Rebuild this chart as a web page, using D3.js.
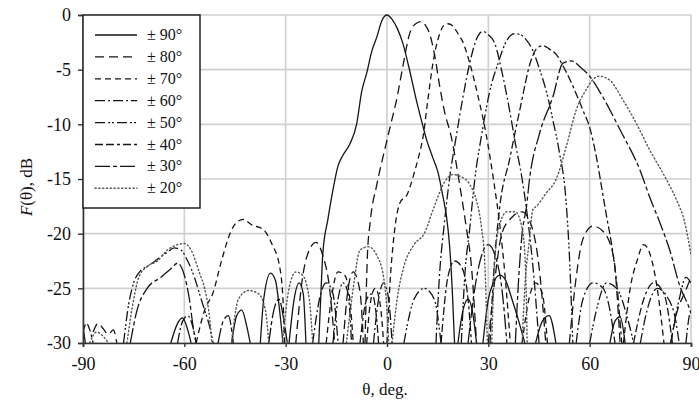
<!DOCTYPE html>
<html>
<head>
<meta charset="utf-8">
<script src="https://cdn.jsdelivr.net/npm/d3@7"></script>
<style>
  body { margin: 0; background: #fff; }
  svg text { font-family: 'Liberation Serif', 'DejaVu Serif', serif; fill: #111; }
</style>
</head>
<body>
<svg id="chart" width="699" height="403"></svg>
<script>
// legend labels, in drawing order
let labels = ['\u00b1 90\u00b0', '\u00b1 80\u00b0', '\u00b1 70\u00b0', '\u00b1 60\u00b0',
              '\u00b1 50\u00b0', '\u00b1 40\u00b0', '\u00b1 30\u00b0', '\u00b1 20\u00b0'];
let xTicks = [-90, -60, -30, 0, 30, 60, 90];
let yTicks = [0, -5, -10, -15, -20, -25, -30];

// each series = list of lobes, each lobe = [theta deg, F dB] points
let s90 = [
  [[-90,-28.5],[-89.3,-30]],
  [[-64,-30],[-62,-28.2],[-60.5,-27.7],[-59,-28.8],[-58,-30]],
  [[-46,-30],[-44.5,-27.5],[-43,-27],[-41.5,-28.5],[-40.5,-30]],
  [[-37.5,-30],[-36.5,-26],[-34.5,-23.6],[-33,-24.3],[-31.8,-27],[-30.8,-30]],
  [[-29,-30],[-27.5,-26],[-26,-24.5],[-24.8,-25.5],[-24,-30]],
  [[-20.2,-30],[-19.5,-25],[-19,-21.8],[-17.5,-18.7],[-16,-16],[-14.5,-13.8],[-13,-12.8],[-11,-11.8],
   [-9,-10],[-7.5,-7],[-6,-5.3],[-4.5,-3.3],[-3,-2],[-1.5,-0.5],[0,0],[1.5,-0.4],[3,-1.2],[4.7,-2.6],
   [6.5,-4.8],[8.7,-7.8],[10.5,-10],[11.7,-11.4],[13.5,-13],[15.1,-14.4],[16.5,-16.5],[17.6,-18.4],
   [18.5,-21],[19.3,-25],[20,-30]],
  [[21,-30],[22.5,-27],[24,-26],[25.5,-27.5],[26.5,-30]],
  [[28.4,-30],[30,-26],[31.5,-24.5],[33.4,-23.8],[35,-24.2],[37,-26],[39,-28],[40.8,-30]],
  [[44,-30],[46,-28],[48,-27.5],[50,-30]],
  [[66,-30],[67.5,-28],[69,-27.6],[70.5,-30]]
];
let s80 = [
  [[-87,-29],[-85.5,-28.2],[-84,-28.7],[-82.5,-29.2],[-81,-28.8],[-80,-30]],
  [[-27,-30],[-25,-24],[-23,-21.5],[-21,-20.8],[-19,-22],[-17,-25],[-15.5,-30]],
  [[-13,-30],[-11.5,-25],[-10,-23.5],[-8.5,-24.5],[-7.5,-27],[-7,-30]],
  [[-6.5,-30],[-5.8,-22],[-5,-19],[-3,-15.5],[-0.2,-11.7],[1.5,-9.5],[2.8,-7.8],[4.7,-4.7],[6.7,-1.7],
   [8.5,-0.8],[10.2,-0.6],[11.5,-1],[12.6,-1.7],[14,-3.5],[15.6,-6.5],[17,-8.8],[19,-11.1],[21.5,-15.5],
   [23.5,-19.5],[25,-23],[26.5,-30]],
  [[30,-30],[32,-24],[34,-20],[37,-18.5],[40,-18],[43,-19.5],[45,-23],[47,-30]],
  [[54,-30],[56,-24],[58,-20.5],[61,-19.3],[64,-19.8],[67,-22],[69,-30]],
  [[84,-30],[86,-27],[88,-25.5],[90,-24]]
];
let s70 = [
  [[-56.5,-30],[-54,-27],[-51.5,-25.4],[-49,-22.5],[-46.5,-20],[-44.6,-19],[-42.6,-18.7],[-40,-19.2],
   [-36.7,-19.6],[-34,-21],[-31.8,-23],[-30.8,-26],[-30.3,-30]],
  [[-18,-30],[-16.5,-26],[-14.5,-23.5],[-12.5,-23.8],[-11,-26],[-10,-30]],
  [[-6,-30],[-5,-26.5],[-3.5,-25],[-2,-26.5],[-1,-30]],
  [[0,-30],[1,-24],[1.8,-21],[3.8,-17.2],[6,-16.4],[8,-14.5],[9.5,-12.8],[10.7,-11.1],[12,-8],[13.6,-4.4],
   [15.5,-1.8],[17,-0.9],[18,-0.8],[19.5,-1],[21,-1.7],[22.5,-2.5],[24.5,-4.4],[27,-7.5],[29.4,-11],
   [31.5,-15],[33.5,-19.5],[35,-24],[36.5,-30]],
  [[40,-30],[42,-26],[44,-24.5],[46,-25.5],[47.5,-30]],
  [[70,-30],[72,-25],[74,-22.5],[76,-21],[78,-22],[80,-25],[82,-30]]
];
let s60 = [
  [[-62,-30],[-60.5,-28],[-59,-27.5],[-57.5,-28.5],[-56.5,-30]],
  [[-22,-30],[-20,-26],[-18,-24.5],[-16,-25.5],[-14.5,-30]],
  [[-4,-30],[-2.5,-26],[-1,-24.5],[0.5,-26],[1.5,-30]],
  [[14.5,-30],[15.5,-24],[17,-19],[18.5,-15],[20.5,-11.1],[22.5,-7.5],[24.5,-4.4],[26.5,-2.2],[28.4,-1.5],
   [30,-1.8],[31.9,-2.6],[34.3,-5.6],[36.8,-9.6],[37.8,-11.4],[40,-15],[42,-19.5],[43.5,-24],[45,-30]],
  [[56,-30],[58,-26],[61,-24.5],[64,-25],[66,-27],[67.5,-30]],
  [[75,-30],[77,-27],[80,-25],[83,-25.8],[85.5,-28],[86.5,-30]],
  [[88.5,-30],[89.5,-27.5],[90,-27]]
];
let s50 = [
  [[-78,-30],[-76.5,-26.5],[-75,-24.5],[-73,-23.4],[-71,-23],[-69,-22.6],[-67,-22.1],[-65,-21.7],[-63,-21.3],
   [-61,-21.5],[-59,-22.5],[-57,-24],[-55.5,-25.5],[-54,-27],[-52.5,-28.5],[-51.5,-30]],
  [[-16,-30],[-14.5,-26],[-13,-24.5],[-11.5,-25.5],[-10.5,-30]],
  [[5,-30],[8,-26],[11,-25],[14,-26],[16,-30]],
  [[22,-30],[23,-24],[24.5,-19.5],[26,-15],[28,-11],[30.4,-7],[33,-4.3],[35.5,-2.3],[37.8,-1.7],[39.5,-1.8],
   [41.3,-2.3],[43.1,-3.2],[45,-4.8],[47.6,-7.5],[49.1,-9.6],[51,-12.5],[53,-17],[54,-22],[55,-30]],
  [[60,-30],[62,-27],[65,-24.5],[68,-25],[71,-27.5],[73,-30]],
  [[84,-30],[86.5,-26],[88.5,-24],[90,-24.5]]
];
let s40 = [
  [[-90,-29],[-89,-28.2],[-88,-28.8],[-87,-30]],
  [[-8,-30],[-6,-26],[-4.5,-25.5],[-3,-28],[-2.5,-30]],
  [[16,-30],[18,-24],[20,-22.5],[22,-23],[24,-26],[25,-30]],
  [[30.5,-30],[31.5,-24],[33.4,-17.5],[36.3,-13.2],[39.3,-8.7],[42.7,-4.1],[44.5,-3],[46.2,-2.8],[48,-3.1],
   [50.1,-3.6],[52,-4.6],[54,-5.8],[56,-7.2],[58,-8.7],[60.2,-10.5],[62,-13],[64,-16.6],[65,-18.4],
   [66.5,-21],[68,-24.5],[69.5,-30]],
  [[73,-30],[76,-26],[79,-24.5],[82,-25.5],[84.5,-30]]
];
let s30 = [
  [[-76,-30],[-74,-27],[-71,-25],[-67,-24],[-64,-23.2],[-62,-22.7],[-60,-23.8],[-58.5,-26],[-57.4,-28.5],[-56.5,-30]],
  [[-50,-30],[-48.5,-28],[-47,-27.5],[-45.5,-30]],
  [[-35,-30],[-33.5,-27],[-32,-26],[-30.5,-28],[-29.5,-30]],
  [[24,-30],[26,-25],[28,-22],[30,-21],[32,-22],[34,-25],[35.5,-30]],
  [[38,-30],[39,-24],[40,-20],[41.3,-17.5],[42.2,-15],[45.2,-10.8],[49.1,-7.5],[52.1,-4.4],[54.6,-4.2],
   [57,-4.7],[60,-5.6],[63.9,-7.5],[69,-10.5],[74.9,-14.2],[77.7,-16.6],[80.8,-19],[83.7,-21.5],
   [86.7,-24.8],[89.7,-27],[90,-27.3]]
];
let s20 = [
  [[-88,-30],[-86,-29],[-84,-29.4],[-82.5,-30]],
  [[-77,-30],[-75,-26],[-73.5,-24],[-71,-23],[-68,-22.5],[-65,-21.5],[-62,-21],[-60,-20.9],[-58,-21.5],
   [-55.5,-23.6],[-54,-25],[-52.8,-27],[-51.8,-30]],
  [[-46,-30],[-44,-26],[-41,-25.2],[-38,-25.5],[-36,-27],[-35,-30]],
  [[-31,-30],[-29,-25],[-27,-23.5],[-25,-23.8],[-23,-26],[-22,-30]],
  [[-12,-30],[-10,-25],[-8,-21.5],[-5.5,-21.2],[-3,-22],[-1,-24],[0,-27],[0.5,-30]],
  [[1.5,-30],[3,-26],[5,-23],[8,-21],[11,-20],[14,-17.5],[17,-15.3],[19.5,-14.6],[22,-14.8],[24.5,-15.5],
   [26.5,-17],[28,-19.5],[29,-23],[29.7,-30]],
  [[31,-30],[32,-22],[33.5,-19],[35.5,-18],[38,-18],[40,-19.5],[41,-23],[41.5,-30]],
  [[40,-30],[41,-24],[42,-21],[43.2,-17.8],[44.2,-17.5],[47.1,-16.3],[50.1,-15],[53.1,-12],[56,-8.7],
   [59,-6.8],[61,-5.9],[62.7,-5.6],[64.5,-5.7],[66.1,-6],[69.9,-7.8],[73.8,-9.9],[77.7,-12.3],[81.2,-14.2],
   [83.5,-15.5],[85.7,-16.9],[88,-18.8],[90,-21.9]]
];
let seriesList = [s90, s80, s70, s60, s50, s40, s30, s20];

// line styles per series (same order)
let dashes = ['none', '9,5', '6,4', '10,3,2,3', '10,3,2,2,2,3', '8,3,8,3,3,3', '15,3,4,3', '1.2,2.6'];

let svg = d3.select('#chart');
let plotLeft = 83, plotRight = 691, plotTop = 15, plotBottom = 343;

let x = d3.scaleLinear().domain([-90, 90]).range([plotLeft, plotRight]);
let y = d3.scaleLinear().domain([-30, 0]).range([plotBottom, plotTop]);

// grid
svg.append('g').selectAll('line')
    .data(xTicks).enter().append('line')
    .attr('x1', d => x(d)).attr('x2', d => x(d))
    .attr('y1', plotTop).attr('y2', plotBottom)
    .attr('stroke', '#cfcfcf').attr('stroke-width', 1.6);
svg.append('g').selectAll('line')
    .data(yTicks).enter().append('line')
    .attr('x1', plotLeft).attr('x2', plotRight)
    .attr('y1', d => y(d)).attr('y2', d => y(d))
    .attr('stroke', '#cfcfcf').attr('stroke-width', 1.6);

svg.append('clipPath').attr('id', 'plotclip')
  .append('rect').attr('x', plotLeft).attr('y', plotTop - 2)
    .attr('width', plotRight - plotLeft).attr('height', plotBottom - plotTop + 2);

let line = d3.line()
    .x(d => x(d[0]))
    .y(d => y(d[1]))
    .curve(d3.curveMonotoneX);

let plot = svg.append('g').attr('clip-path', 'url(#plotclip)');
seriesList.forEach(function(series, i) {
  plot.selectAll('.s' + i)
      .data(series)
      .enter().append('path')
      .attr('class', 's' + i)
      .attr('d', line)
      .attr('fill', 'none')
      .attr('stroke', i == 7 ? '#555' : '#151515')
      .attr('stroke-width', i == 7 ? 1.4 : 1.3)
      .attr('stroke-linecap', i == 7 ? 'round' : 'butt')
      .attr('stroke-dasharray', dashes[i]);
});

// axes
let yAxis = d3.axisLeft(y).tickValues(yTicks).tickSize(5).tickPadding(7).tickFormat(d3.format('d'));
let xAxis = d3.axisBottom(x).tickValues(xTicks).tickSize(4).tickPadding(10).tickFormat(d3.format('d'));

let gy = svg.append('g').attr('transform', 'translate(' + plotLeft + ',0)').call(yAxis);
let gx = svg.append('g').attr('transform', 'translate(0,' + plotBottom + ')').call(xAxis);
[gy, gx].forEach(function(g) {
  g.attr('font-family', null).attr('font-size', null);
  g.select('.domain').attr('stroke', '#333').attr('stroke-width', 1.6);
  g.selectAll('.tick line').attr('stroke', '#333').attr('stroke-width', 1.4);
  g.selectAll('.tick text')
    .style('font-size', '18px').attr('fill', '#111')
    .text(d => d < 0 ? '-' + Math.abs(d) : d);
});

// axis titles
let yl = svg.append('text')
    .attr('transform', 'translate(32,187) rotate(-90)')
    .attr('text-anchor', 'middle')
    .style('font-size', '17px');
yl.append('tspan').attr('font-style', 'italic').text('F');
yl.append('tspan').text('(\u03b8), dB');

svg.append('text')
    .attr('x', 385).attr('y', 395)
    .attr('text-anchor', 'middle')
    .style('font-size', '17px')
    .text('\u03b8, deg.');

// legend
let legend = svg.append('g');
legend.append('rect')
    .attr('x', plotLeft).attr('y', plotTop)
    .attr('width', 117).attr('height', 193)
    .attr('fill', '#fff').attr('stroke', '#222').attr('stroke-width', 1.5);
labels.forEach(function(lab, i) {
  let ly = 35 + i * 21.9;
  legend.append('line')
      .attr('x1', 95).attr('x2', 137)
      .attr('y1', ly).attr('y2', ly)
      .attr('stroke', i == 7 ? '#555' : '#151515')
      .attr('stroke-width', i == 7 ? 1.4 : 1.3)
      .attr('stroke-linecap', i == 7 ? 'round' : 'butt')
      .attr('stroke-dasharray', dashes[i]);
  legend.append('text')
      .attr('x', 147).attr('y', ly + 5)
      .style('font-size', '16px')
      .text(lab);
});
</script>
</body>
</html>
